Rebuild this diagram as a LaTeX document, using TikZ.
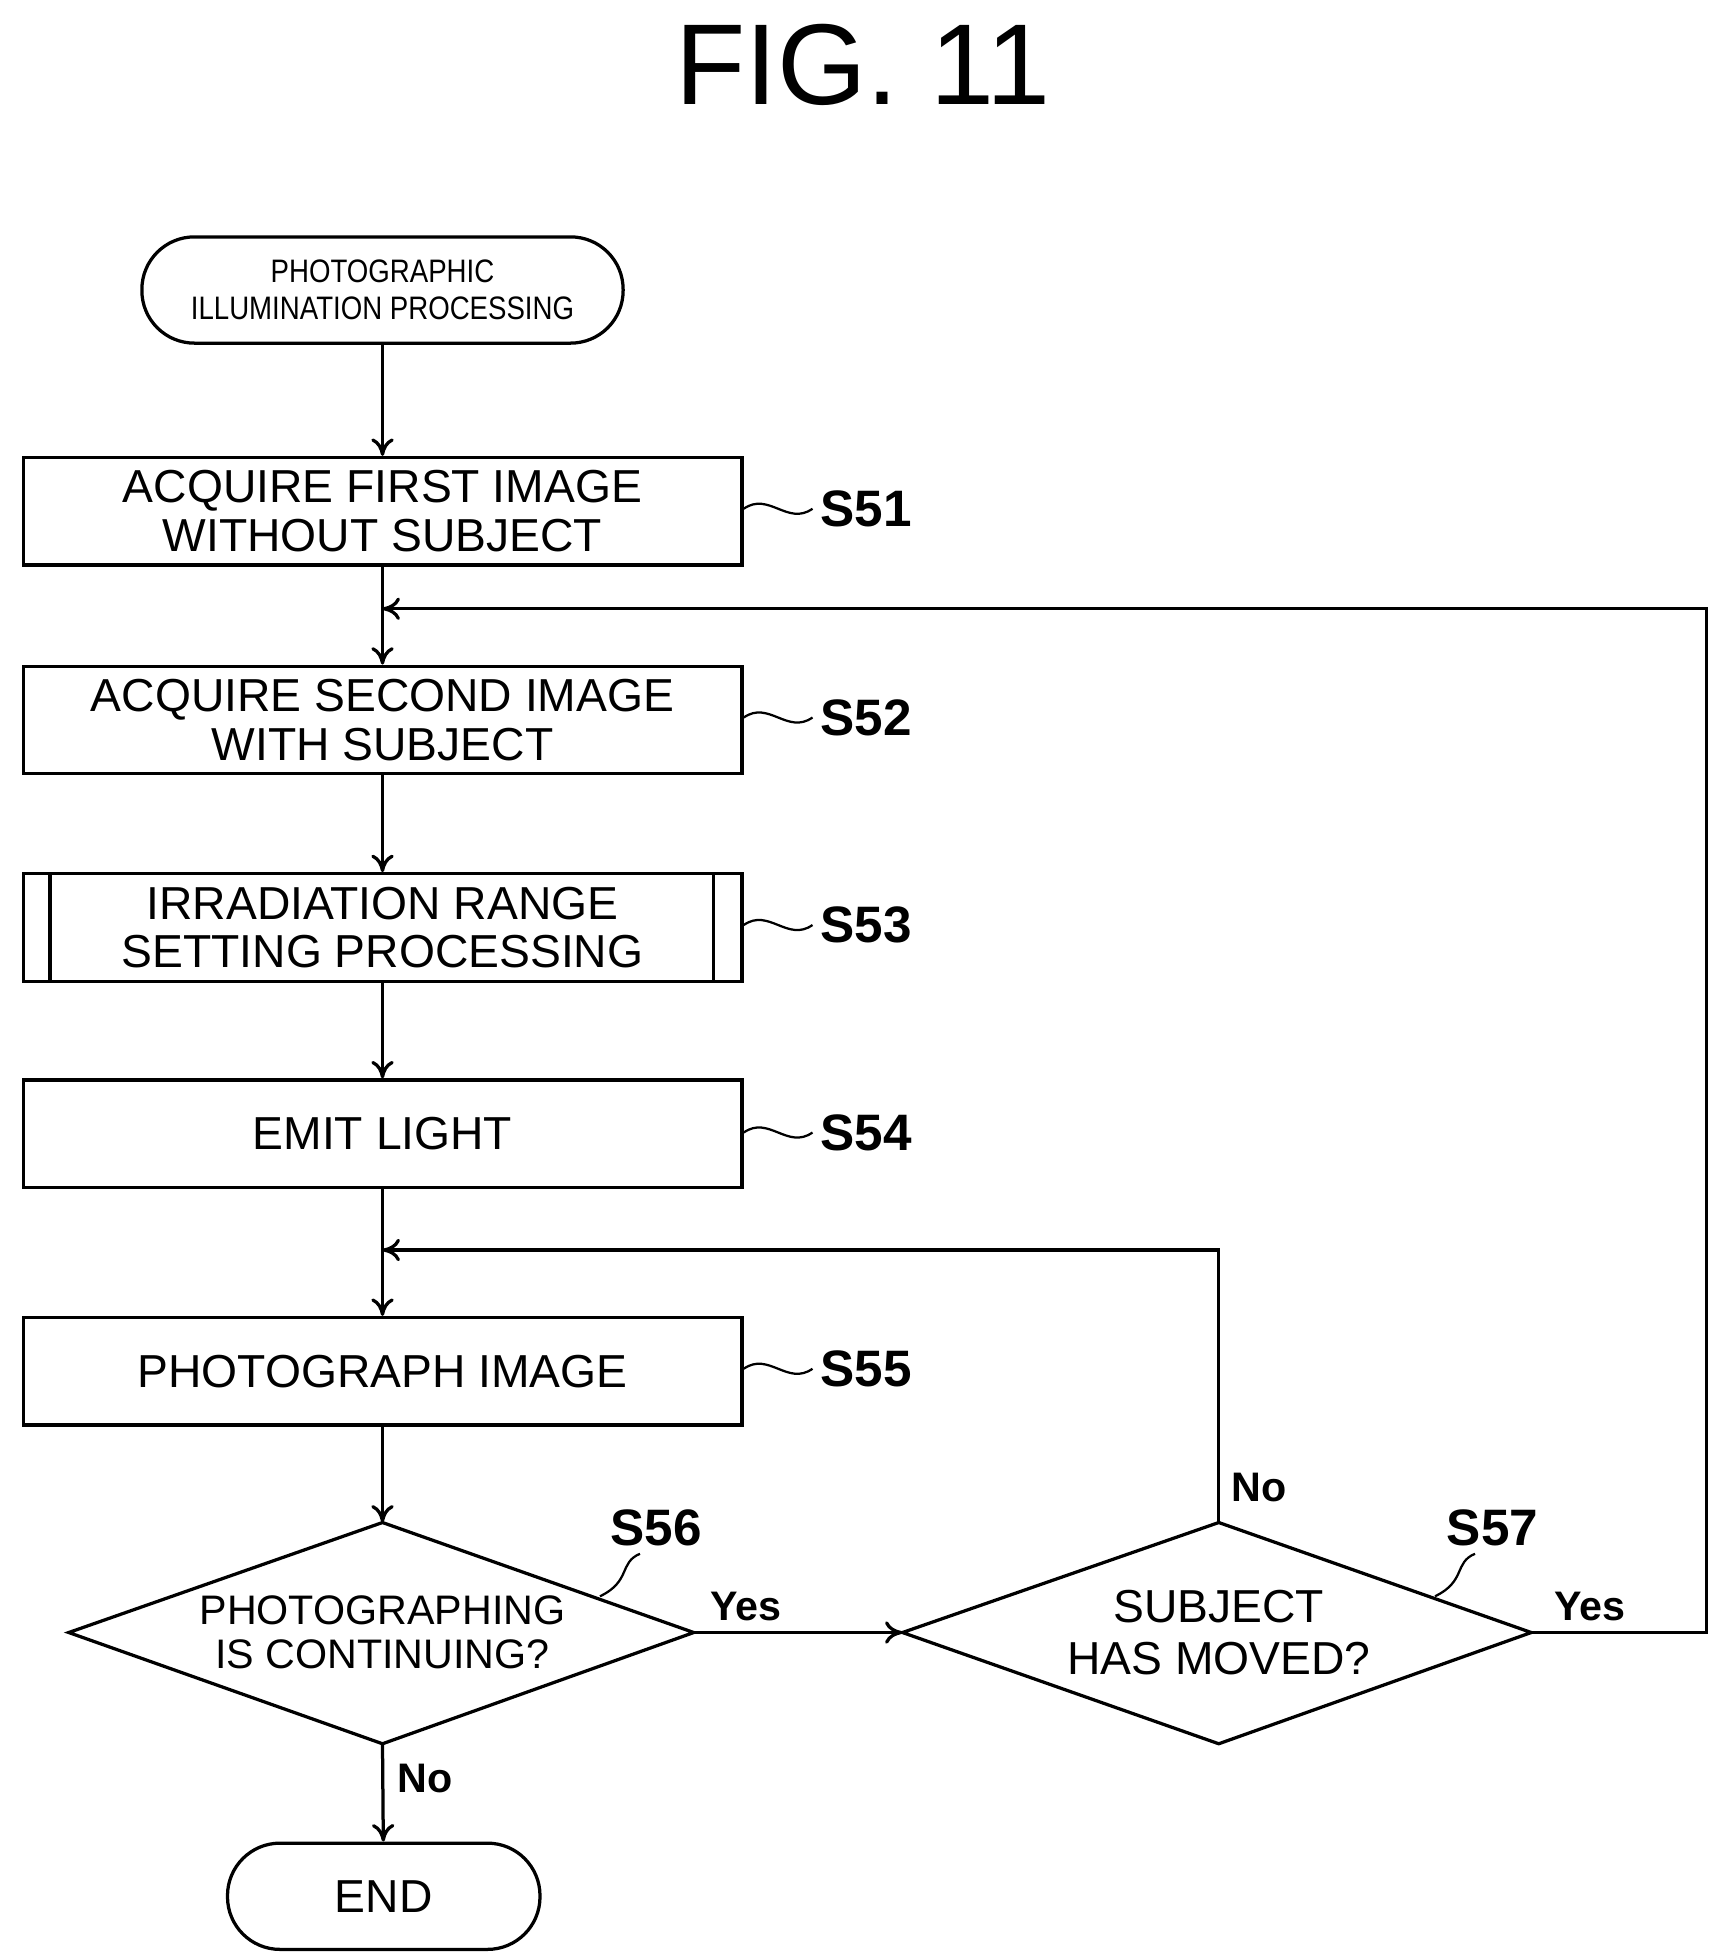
\documentclass[tikz,border=0pt]{standalone}
\usepackage{fontspec}
\setmainfont{Liberation Sans}
\usetikzlibrary{arrows.meta}
\begin{document}
\begin{tikzpicture}[x=1pt,y=-1pt,line width=2.6pt,
  box/.style={draw,minimum width=575pt,minimum height=86pt,inner sep=0pt,align=center,font=\fontsize{37}{39}\selectfont},
  term/.style={draw,rounded corners=42pt,inner sep=0pt,align=center},
  dia/.style={draw,line join=miter},
  steplab/.style={font=\fontsize{41}{43}\selectfont\bfseries},
  lab/.style={font=\fontsize{33}{35}\selectfont\bfseries},
  arr/.style={-{To[length=14pt,width=18pt]}}]
\useasboundingbox (0,0) rectangle (1381,1564);
\node[font=\fontsize{92}{92}\selectfont] (title) at (690,52) {FIG. 11};
\node[term,minimum width=385pt,minimum height=85pt,font=\fontsize{26}{30}\selectfont\addfontfeature{FakeStretch=0.85}] (st) at (306,232) {PHOTOGRAPHIC\\ILLUMINATION PROCESSING};
\node[box] (s51) at (306,409) {ACQUIRE FIRST IMAGE\\WITHOUT SUBJECT};
\node[box] (s52) at (306,576) {ACQUIRE SECOND IMAGE\\WITH SUBJECT};
\node[box] (s53) at (306,742) {IRRADIATION RANGE\\SETTING PROCESSING};
\draw (40,699) -- (40,785) (571,699) -- (571,785);
\node[box] (s54) at (306,907) {EMIT LIGHT};
\node[box] (s55) at (306,1097) {PHOTOGRAPH IMAGE};
\draw[dia] (55,1306) -- (306,1218) -- (555,1306) -- (306,1395) -- cycle;
\node[align=center,font=\fontsize{33}{35}\selectfont] (s56) at (306,1306) {PHOTOGRAPHING\\IS CONTINUING?};
\draw[dia] (722,1306) -- (975,1218) -- (1225,1306) -- (975,1395) -- cycle;
\node[align=center,font=\fontsize{37}{41}\selectfont] (s57) at (975,1306) {SUBJECT\\HAS MOVED?};
\node[term,minimum width=250pt,minimum height=85pt,font=\fontsize{37}{39}\selectfont] (end) at (307,1517) {END};
\coordinate (j1) at (306,487);
\coordinate (j2) at (306,1000);
\draw[arr] (st) -- (s51);
\draw[arr] (s51) -- (s52);
\draw[arr] (s52) -- (s53);
\draw[arr] (s53) -- (s54);
\draw[arr] (s54) -- (s55);
\draw[arr] (s55) -- (306,1218);
\draw[arr] (306,1395) -- (end);
\draw[arr] (555,1306) -- (722,1306);
\draw[arr] (1225,1306) -- (1365,1306) -- (1365,487) -- (j1);
\draw[arr] (975,1218) -- (975,1000) -- (j2);
\node[lab] at (597,1285) {Yes};
\node[lab] at (1272,1285) {Yes};
\node[lab] at (1007,1190) {No};
\node[lab] at (340,1423) {No};
\foreach \y/\t in {407/S51,574/S52,740/S53,906/S54,1095/S55}{
  \draw[line width=1.8pt] (595,\y) .. controls (615,\y-14) and (630,\y+14) .. (650,\y);
  \node[steplab,anchor=west] at (652,\y) {\t};
}
\draw[line width=1.8pt] (480,1277) .. controls (505,1265) and (495,1250) .. (512,1243);
\node[steplab] at (525,1222) {S56};
\draw[line width=1.8pt] (1148,1277) .. controls (1173,1265) and (1163,1250) .. (1180,1243);
\node[steplab] at (1194,1222) {S57};
\end{tikzpicture}
\end{document}
